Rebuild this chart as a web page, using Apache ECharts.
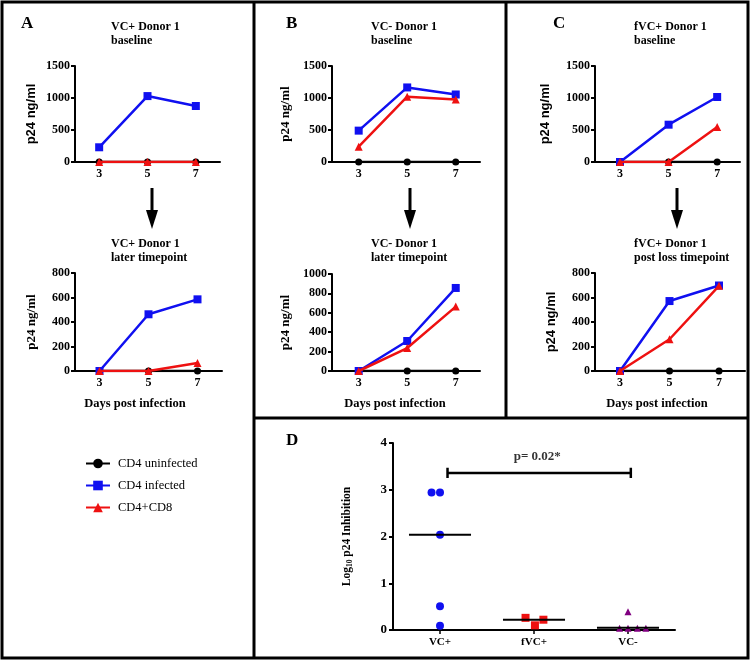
<!DOCTYPE html>
<html><head><meta charset="utf-8">
<script src="https://cdn.jsdelivr.net/npm/echarts@6/dist/echarts.min.js"></script>
<style>html,body{margin:0;padding:0;background:#fff}#c{width:750px;height:660px}</style>
</head><body><div id="c"></div>
<script>
// ---------- data ----------
const days = [3, 5, 7];
const seriesNames = ['CD4 uninfected', 'CD4 infected', 'CD4+CD8'];
// Panel A
const aBaseUninf = [0, 0, 0];
const aBaseInf = [230, 1030, 875];
const aBaseCD8 = [0, 0, 0];
const aLateUninf = [0, 0, 0];
const aLateInf = [0, 463, 585];
const aLateCD8 = [0, 0, 65];
// Panel B
const bBaseUninf = [0, 0, 0];
const bBaseInf = [490, 1165, 1055];
const bBaseCD8 = [240, 1020, 975];
const bLateUninf = [0, 0, 0];
const bLateInf = [0, 309, 856];
const bLateCD8 = [0, 237, 664];
// Panel C
const cBaseUninf = [0, 0, 0];
const cBaseInf = [0, 583, 1016];
const cBaseCD8 = [0, 0, 547];
const cLateUninf = [0, 0, 0];
const cLateInf = [0, 571, 698];
const cLateCD8 = [0, 259, 695];
// Panel D
const dCategories = ['VC+', 'fVC+', 'VC-'];
const dVCpos = [2.94, 2.94, 2.04, 0.51, 0.09];
const dVCposJitter = [-0.09, 0, 0, 0, 0];
const dfVCpos = [0.26, 0.10, 0.22];
const dfVCposJitter = [-0.09, 0.01, 0.10];
const dVCneg = [0.39, 0.04, 0.04, 0.04, 0.04];
const dVCnegJitter = [0, -0.09, 0, 0.10, 0.19];
const dMedians = [2.04, 0.22, 0.05];
const dPValueText = 'p= 0.02*';
const dBracketY = 3.36;
const dBracketFrom = 0; // VC+
const dBracketTo = 2;   // VC-

// ---------- styles ----------
const SERIF = '"Liberation Serif","Times New Roman",serif';
const SANS = '"Liberation Sans",Arial,sans-serif';
const BLACK = '#000000', BLUE = '#1010f0', RED = '#ee1111', PURPLE = '#800080';

const chart = echarts.init(document.getElementById('c'), null, {renderer: 'canvas'});

const panels = [
  {grid: {left: 75, top: 66, width: 145, height: 96}, xMin: 2, xMax: 8, yMax: 1500, yInt: 500, nameFont: SANS, nameGap: 37,
   vals: [aBaseUninf, aBaseInf, aBaseCD8]},
  {grid: {left: 75, top: 273, width: 147, height: 98}, xMin: 2, xMax: 8, yMax: 800, yInt: 200, nameFont: SERIF, nameGap: 37,
   vals: [aLateUninf, aLateInf, aLateCD8]},
  {grid: {left: 332, top: 66, width: 148, height: 96}, xMin: 1.9, xMax: 8, yMax: 1500, yInt: 500, nameFont: SERIF, nameGap: 40,
   vals: [bBaseUninf, bBaseInf, bBaseCD8]},
  {grid: {left: 332, top: 274, width: 148, height: 97}, xMin: 1.9, xMax: 8, yMax: 1000, yInt: 200, nameFont: SERIF, nameGap: 40,
   vals: [bLateUninf, bLateInf, bLateCD8]},
  {grid: {left: 595, top: 66, width: 145, height: 96}, xMin: 1.97, xMax: 7.94, yMax: 1500, yInt: 500, nameFont: SANS, nameGap: 43,
   vals: [cBaseUninf, cBaseInf, cBaseCD8]},
  {grid: {left: 595, top: 273, width: 150, height: 98}, xMin: 1.99, xMax: 8.05, yMax: 800, yInt: 200, nameFont: SANS, nameGap: 37,
   vals: [cLateUninf, cLateInf, cLateCD8]}
];

const colors = [BLACK, BLUE, RED];
const symbols = ['circle', 'rect', 'triangle'];
const symSizes = [7, 8, 8];

const grids = [], xAxes = [], yAxes = [], series = [];
const axisLineStyle = {color: BLACK, width: 2};
const tickLbl = {fontFamily: SERIF, fontWeight: 'bold', fontSize: 12, color: BLACK};
const plain = v => String(v);

panels.forEach((p, i) => {
  grids.push(Object.assign({outerBoundsMode: 'none', containLabel: false}, p.grid));
  xAxes.push({
    type: 'value', gridIndex: i, min: p.xMin, max: p.xMax,
    splitLine: {show: false},
    axisLine: {lineStyle: axisLineStyle},
    axisTick: {show: true, length: 3, lineStyle: {width: 2, color: BLACK}, customValues: days},
    axisLabel: Object.assign({margin: 6, customValues: days, formatter: plain}, tickLbl)
  });
  yAxes.push({
    type: 'value', gridIndex: i, min: 0, max: p.yMax, interval: p.yInt,
    splitLine: {show: false},
    axisLine: {show: true, lineStyle: axisLineStyle},
    axisTick: {show: true, length: 4, lineStyle: {width: 2, color: BLACK}},
    axisLabel: Object.assign({margin: 5, formatter: plain}, tickLbl),
    name: 'p24 ng/ml', nameLocation: 'middle', nameGap: p.nameGap,
    nameTextStyle: {fontFamily: p.nameFont, fontWeight: 'bold', fontSize: 13, color: BLACK}
  });
  p.vals.forEach((v, k) => {
    series.push({
      type: 'line', name: seriesNames[k], xAxisIndex: i, yAxisIndex: i,
      data: days.map((d, j) => [d, v[j]]),
      symbol: symbols[k], symbolSize: symSizes[k],
      lineStyle: {color: colors[k], width: 2.5},
      itemStyle: {color: colors[k], opacity: 1},
      z: 2 + k, animation: false
    });
  });
});

// Panel D
const dIdx = panels.length;
grids.push({left: 393, top: 443, width: 282, height: 187, outerBoundsMode: 'none', containLabel: false});
xAxes.push({
  type: 'value', gridIndex: dIdx, min: 0, max: 3,
  splitLine: {show: false},
  axisLine: {lineStyle: axisLineStyle},
  axisTick: {show: true, length: 4, lineStyle: {width: 1.5, color: BLACK}, customValues: [0.5, 1.5, 2.5]},
  axisLabel: {customValues: [0.5, 1.5, 2.5], margin: 7, fontFamily: SERIF, fontWeight: 'bold', fontSize: 11, color: BLACK,
    formatter: v => dCategories[Math.round(v - 0.5)]}
});
yAxes.push({
  type: 'value', gridIndex: dIdx, min: 0, max: 4, interval: 1,
  splitLine: {show: false},
  axisLine: {show: true, lineStyle: axisLineStyle},
  axisTick: {show: true, length: 4, lineStyle: {width: 2, color: BLACK}},
  axisLabel: {margin: 6, fontFamily: SERIF, fontWeight: 'bold', fontSize: 13, color: BLACK},
  name: '{a|Log}{s|10}{a| p24 Inhibition}', nameLocation: 'middle', nameGap: 39,
  nameTextStyle: {color: BLACK, rich: {
    a: {fontFamily: SERIF, fontWeight: 'bold', fontSize: 11.5, color: BLACK},
    s: {fontFamily: SERIF, fontWeight: 'bold', fontSize: 7.5, color: BLACK, verticalAlign: 'bottom', padding: [5, 0, 0, 0]}
  }}
});

const dGroups = [
  {vals: dVCpos, jit: dVCposJitter, color: BLUE, symbol: 'circle', size: 8},
  {vals: dfVCpos, jit: dfVCposJitter, color: RED, symbol: 'rect', size: 8},
  {vals: dVCneg, jit: dVCnegJitter, color: PURPLE, symbol: 'triangle', size: 7}
];
dGroups.forEach((g, gi) => {
  series.push({
    type: 'scatter', name: dCategories[gi], xAxisIndex: dIdx, yAxisIndex: dIdx,
    data: g.vals.map((v, j) => [gi + 0.5 + g.jit[j], v]),
    symbol: g.symbol, symbolSize: g.size, itemStyle: {color: g.color, opacity: 1}, z: 3, animation: false
  });
});
const medianHalf = 0.33;
dMedians.forEach((m, gi) => {
  series.push({
    type: 'line', name: 'median ' + dCategories[gi], xAxisIndex: dIdx, yAxisIndex: dIdx,
    data: [[gi + 0.5 - medianHalf, m], [gi + 0.5 + medianHalf, m]],
    symbol: 'none', lineStyle: {color: BLACK, width: 2}, z: 4, animation: false
  });
});
// significance bracket
const capH = 0.11;
const bx0 = dBracketFrom + 0.58, bx1 = dBracketTo + 0.53;
series.push({
  type: 'line', name: 'bracket', xAxisIndex: dIdx, yAxisIndex: dIdx,
  data: [[bx0, dBracketY + capH], [bx0, dBracketY - capH], [bx0, dBracketY], [bx1, dBracketY], [bx1, dBracketY + capH], [bx1, dBracketY - capH]],
  symbol: 'none', lineStyle: {color: BLACK, width: 2.5}, z: 4, animation: false
});
series.push({
  type: 'scatter', name: 'pval', xAxisIndex: dIdx, yAxisIndex: dIdx,
  data: [[(bx0 + bx1) / 2 - 0.02, 3.7]], symbolSize: 0,
  label: {show: true, position: 'inside', formatter: dPValueText, fontFamily: SERIF, fontWeight: 'bold', fontSize: 13, color: BLACK},
  animation: false
});

// titles
const tStyle = {fontFamily: SERIF, fontWeight: 'bold', fontSize: 12, lineHeight: 14, color: BLACK};
const letterStyle = {fontFamily: SERIF, fontWeight: 'bold', fontSize: 17, color: BLACK};
const daysStyle = {fontFamily: SERIF, fontWeight: 'bold', fontSize: 12.5, color: BLACK};
const titles = [
  {text: 'A', left: 21, top: 15, textStyle: letterStyle},
  {text: 'B', left: 286, top: 15, textStyle: letterStyle},
  {text: 'C', left: 553, top: 15, textStyle: letterStyle},
  {text: 'D', left: 286, top: 432, textStyle: letterStyle},
  {text: 'VC+ Donor 1\nbaseline', left: 111, top: 20, textStyle: tStyle},
  {text: 'VC+ Donor 1\nlater timepoint', left: 111, top: 237, textStyle: tStyle},
  {text: 'VC- Donor 1\nbaseline', left: 371, top: 20, textStyle: tStyle},
  {text: 'VC- Donor 1\nlater timepoint', left: 371, top: 237, textStyle: tStyle},
  {text: 'fVC+ Donor 1\nbaseline', left: 634, top: 20, textStyle: tStyle},
  {text: 'fVC+ Donor 1\npost loss timepoint', left: 634, top: 237, textStyle: tStyle},
  {text: 'Days post infection', left: 135, top: 397, textAlign: 'center', textStyle: daysStyle},
  {text: 'Days post infection', left: 395, top: 397, textAlign: 'center', textStyle: daysStyle},
  {text: 'Days post infection', left: 657, top: 397, textAlign: 'center', textStyle: daysStyle}
].map(t => Object.assign({padding: 0, itemGap: 0}, t));

// decorative frame and arrows
function arrow(x) {
  return [
    {type: 'line', shape: {x1: x, y1: 188, x2: x, y2: 212}, style: {stroke: BLACK, lineWidth: 3}},
    {type: 'polygon', shape: {points: [[x - 6, 210], [x + 6, 210], [x, 229]]}, style: {fill: BLACK}}
  ];
}
const frameStyle = {stroke: BLACK, lineWidth: 3};
const graphics = [
  {type: 'rect', shape: {x: 2, y: 2, width: 746, height: 656}, style: {fill: 'none', stroke: BLACK, lineWidth: 3}},
  {type: 'line', shape: {x1: 254, y1: 2, x2: 254, y2: 658}, style: frameStyle},
  {type: 'line', shape: {x1: 506, y1: 2, x2: 506, y2: 418}, style: frameStyle},
  {type: 'line', shape: {x1: 254, y1: 418, x2: 748, y2: 418}, style: frameStyle}
].concat(arrow(152), arrow(410), arrow(677));

chart.setOption({
  backgroundColor: '#fff',
  animation: false,
  title: titles,
  legend: {
    data: seriesNames, orient: 'vertical', left: 80, top: 452,
    itemWidth: 24, itemHeight: 12, itemGap: 9, selectedMode: false,
    textStyle: {fontFamily: SERIF, fontSize: 12.5, color: BLACK, padding: [0, 0, 0, 3]}
  },
  grid: grids, xAxis: xAxes, yAxis: yAxes, series: series,
  graphic: graphics
});
</script></body></html>
